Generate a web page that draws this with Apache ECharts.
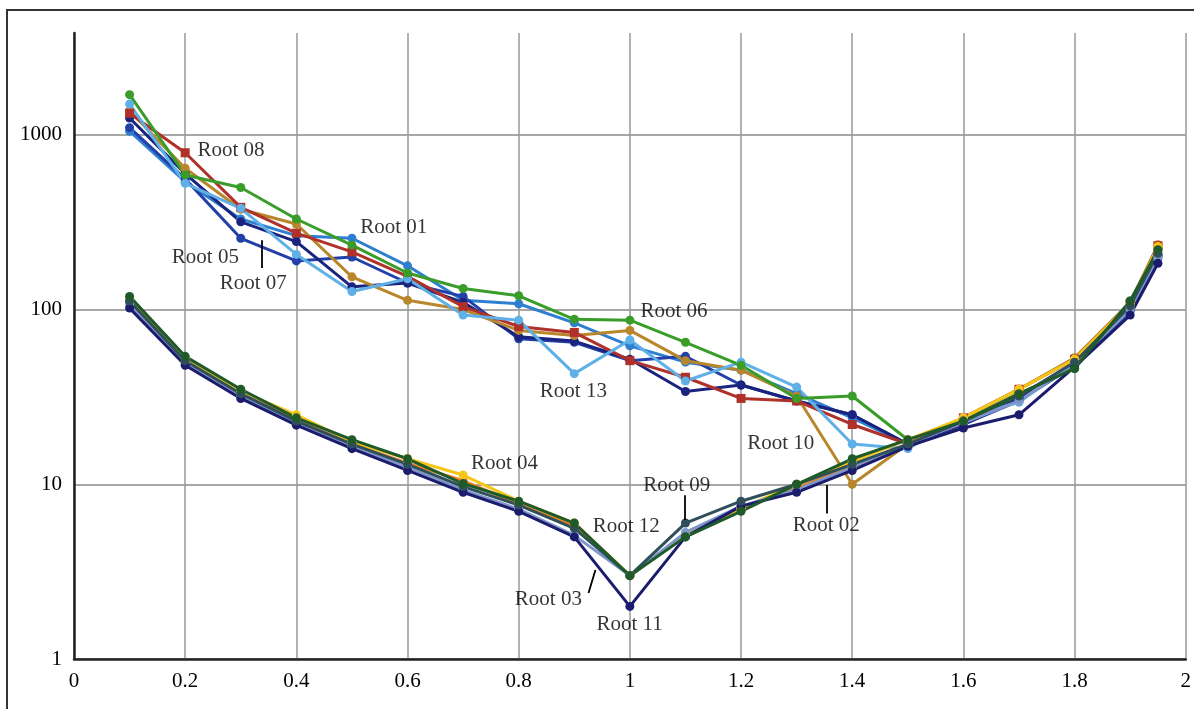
<!DOCTYPE html>
<html>
<head>
<meta charset="utf-8">
<script src="https://cdn.jsdelivr.net/npm/echarts@6/dist/echarts.min.js"></script>
<style>
  html, body { margin: 0; padding: 0; background: #fff; }
  #chart { width: 1194px; height: 709px; }
</style>
</head>
<body>
<div id="chart"></div>
<script>
// x positions of the measurements
var xValues = [0.1, 0.2, 0.3, 0.4, 0.5, 0.6, 0.7, 0.8, 0.9, 1.0,
               1.1, 1.2, 1.3, 1.4, 1.5, 1.6, 1.7, 1.8, 1.9, 1.95];

// upper group
var root01 = [1050, 540, 330, 265, 256, 178, 113, 108, 84, 62, 50, 45, 33, 24, 17, 23, 31, 50, 102, 205];
var root05 = [1100, 560, 256, 190, 200, 142, 119, 68, 65, 51, 54, 37, 30, 25, 17, 22, 30, 48, 98, 200];
var root06 = [1700, 590, 500, 330, 234, 162, 132, 120, 88, 87, 65, 48, 31, 32, 18, 23, 33, 46, 112, 220];
var root07 = [1250, 600, 318, 245, 135, 142, 110, 70, 66, 52, 34, 37, 30, 25, 17, 22, 31, 49, 100, 205];
var root08 = [1330, 790, 385, 274, 214, 155, 104, 80, 74, 51, 41, 31, 30, 22, 17, 24, 35, 52, 108, 232];
var root10 = [1370, 644, 375, 309, 154, 113, 100, 76, 71, 76, 51, 45, 32, 10, 17, 24, 35, 53, 110, 235];
var root13 = [1500, 528, 380, 207, 127, 150, 93, 87, 43, 67, 39, 50, 36, 17, 16, 24, 29.5, 50, 104, 195];

// lower group
var root02 = [110, 50, 33, 23.5, 17, 13.2, 10.5, 7.7, 5.8, 3, 5.2, 7.3, 9.5, 12.8, 17, 24, 35, 52, 108, 228];
var root03 = [108, 50, 32, 22.5, 16.5, 12.5, 9.3, 7.2, 5.1, 3, 5.3, 7.5, 9.3, 12.5, 17, 22.5, 30, 49, 100, 200];
var root04 = [115, 53, 34, 25, 17.5, 14, 11.3, 8, 6, 3, 5.2, 7.3, 10, 13.5, 18, 24, 35, 52, 108, 230];
var root09 = [112, 51, 33, 23, 17, 13, 9.7, 7.6, 5.6, 3, 6, 8, 10, 13, 17, 23, 32, 50, 105, 210];
var root11 = [102, 48, 31, 21.8, 16, 12, 9, 7, 5, 2, 5, 7.5, 9, 12, 16.5, 21, 25, 47, 93, 184];
var root12 = [119, 54, 35, 24, 18, 14, 10.1, 8, 6, 3, 5, 7, 10, 14, 18, 23, 33, 46, 112, 220];

// annotations in data coordinates: [x, y, text]
var annotations = [
  [0.222, 809, 'Root 08'],
  [0.515, 297, 'Root 01'],
  [0.176, 200, 'Root 05'],
  [0.262, 142, 'Root 07'],
  [1.019, 98, 'Root 06'],
  [0.838, 34.2, 'Root 13'],
  [1.211, 17.2, 'Root 10'],
  [0.714, 13.1, 'Root 04'],
  [1.024, 9.9, 'Root 09'],
  [0.933, 5.7, 'Root 12'],
  [0.793, 2.2, 'Root 03'],
  [0.940, 1.566, 'Root 11'],
  [1.293, 5.78, 'Root 02']
];
// leader lines: [[x1, y1], [x2, y2]]
var leaders = [
  [[0.337, 249], [0.337, 173]],
  [[1.0996, 8.66], [1.0996, 6.25]],
  [[0.9256, 2.39], [0.938, 3.23]],
  [[1.3548, 9.9], [1.3548, 6.8]]
];

var seriesDefs = [
  { name: 'Root 01', data: root01, color: '#2f7fd0', symbol: 'circle' },
  { name: 'Root 05', data: root05, color: '#2240a8', symbol: 'circle' },
  { name: 'Root 07', data: root07, color: '#1a237e', symbol: 'circle' },
  { name: 'Root 10', data: root10, color: '#b8862b', symbol: 'circle' },
  { name: 'Root 08', data: root08, color: '#b0302a', symbol: 'rect' },
  { name: 'Root 13', data: root13, color: '#5fb0e6', symbol: 'circle' },
  { name: 'Root 06', data: root06, color: '#3a9d2a', symbol: 'circle' },
  { name: 'Root 02', data: root02, color: '#e8822a', symbol: 'circle' },
  { name: 'Root 04', data: root04, color: '#f5c518', symbol: 'circle' },
  { name: 'Root 03', data: root03, color: '#7f96c8', symbol: 'circle' },
  { name: 'Root 11', data: root11, color: '#1c1c6e', symbol: 'circle' },
  { name: 'Root 09', data: root09, color: '#2f4f5a', symbol: 'circle' },
  { name: 'Root 12', data: root12, color: '#1f5a2a', symbol: 'circle' }
];

var font = 'Liberation Serif';

var series = seriesDefs.map(function (d) {
  return {
    name: d.name,
    type: 'line',
    data: xValues.map(function (x, i) { return [x, d.data[i]]; }),
    symbol: d.symbol,
    symbolSize: 9,
    showAllSymbol: true,
    lineStyle: { color: d.color, width: 3 },
    itemStyle: { color: d.color },
    z: 3
  };
});

series.push({
  name: 'labels',
  type: 'scatter',
  data: annotations,
  symbolSize: 0,
  silent: true,
  z: 5,
  label: {
    show: true,
    position: 'right',
    distance: 0,
    formatter: function (p) { return p.data[2]; },
    color: '#000',
    fontFamily: font,
    fontSize: 21
  }
});

series.push({
  name: 'leaders',
  type: 'lines',
  coordinateSystem: 'cartesian2d',
  data: leaders.map(function (l) { return { coords: l }; }),
  silent: true,
  z: 5,
  lineStyle: { color: '#000', width: 1.8, opacity: 1 }
});

var chart = echarts.init(document.getElementById('chart'));
chart.setOption({
  animation: false,
  backgroundColor: '#fff',
  graphic: [{
    type: 'rect',
    shape: { x: 7, y: 10, width: 1300, height: 800 },
    style: { fill: 'none', stroke: '#333', lineWidth: 2 },
    silent: true
  }],
  grid: { left: 74, right: 4, top: 33, bottom: 50 },
  xAxis: {
    type: 'value',
    min: 0,
    max: 2,
    interval: 0.2,
    axisLine: { show: true, onZero: false, lineStyle: { color: '#222', width: 2.5 } },
    axisTick: { show: false },
    axisLabel: { color: '#000', fontFamily: font, fontSize: 21, margin: 12 },
    splitLine: { show: true, lineStyle: { color: '#999', width: 1.5 } }
  },
  yAxis: {
    type: 'log',
    logBase: 10,
    min: 1,
    max: 3830,
    axisLine: { show: true, lineStyle: { color: '#222', width: 2.5 } },
    axisTick: { show: false },
    axisLabel: {
      color: '#000', fontFamily: font, fontSize: 21, margin: 12,
      showMaxLabel: false,
      formatter: function (v) { return String(Math.round(v)); }
    },
    splitLine: { show: true, showMaxLine: false, lineStyle: { color: '#8a8a8a', width: 1.5 } }
  },
  series: series
});
</script>
</body>
</html>
